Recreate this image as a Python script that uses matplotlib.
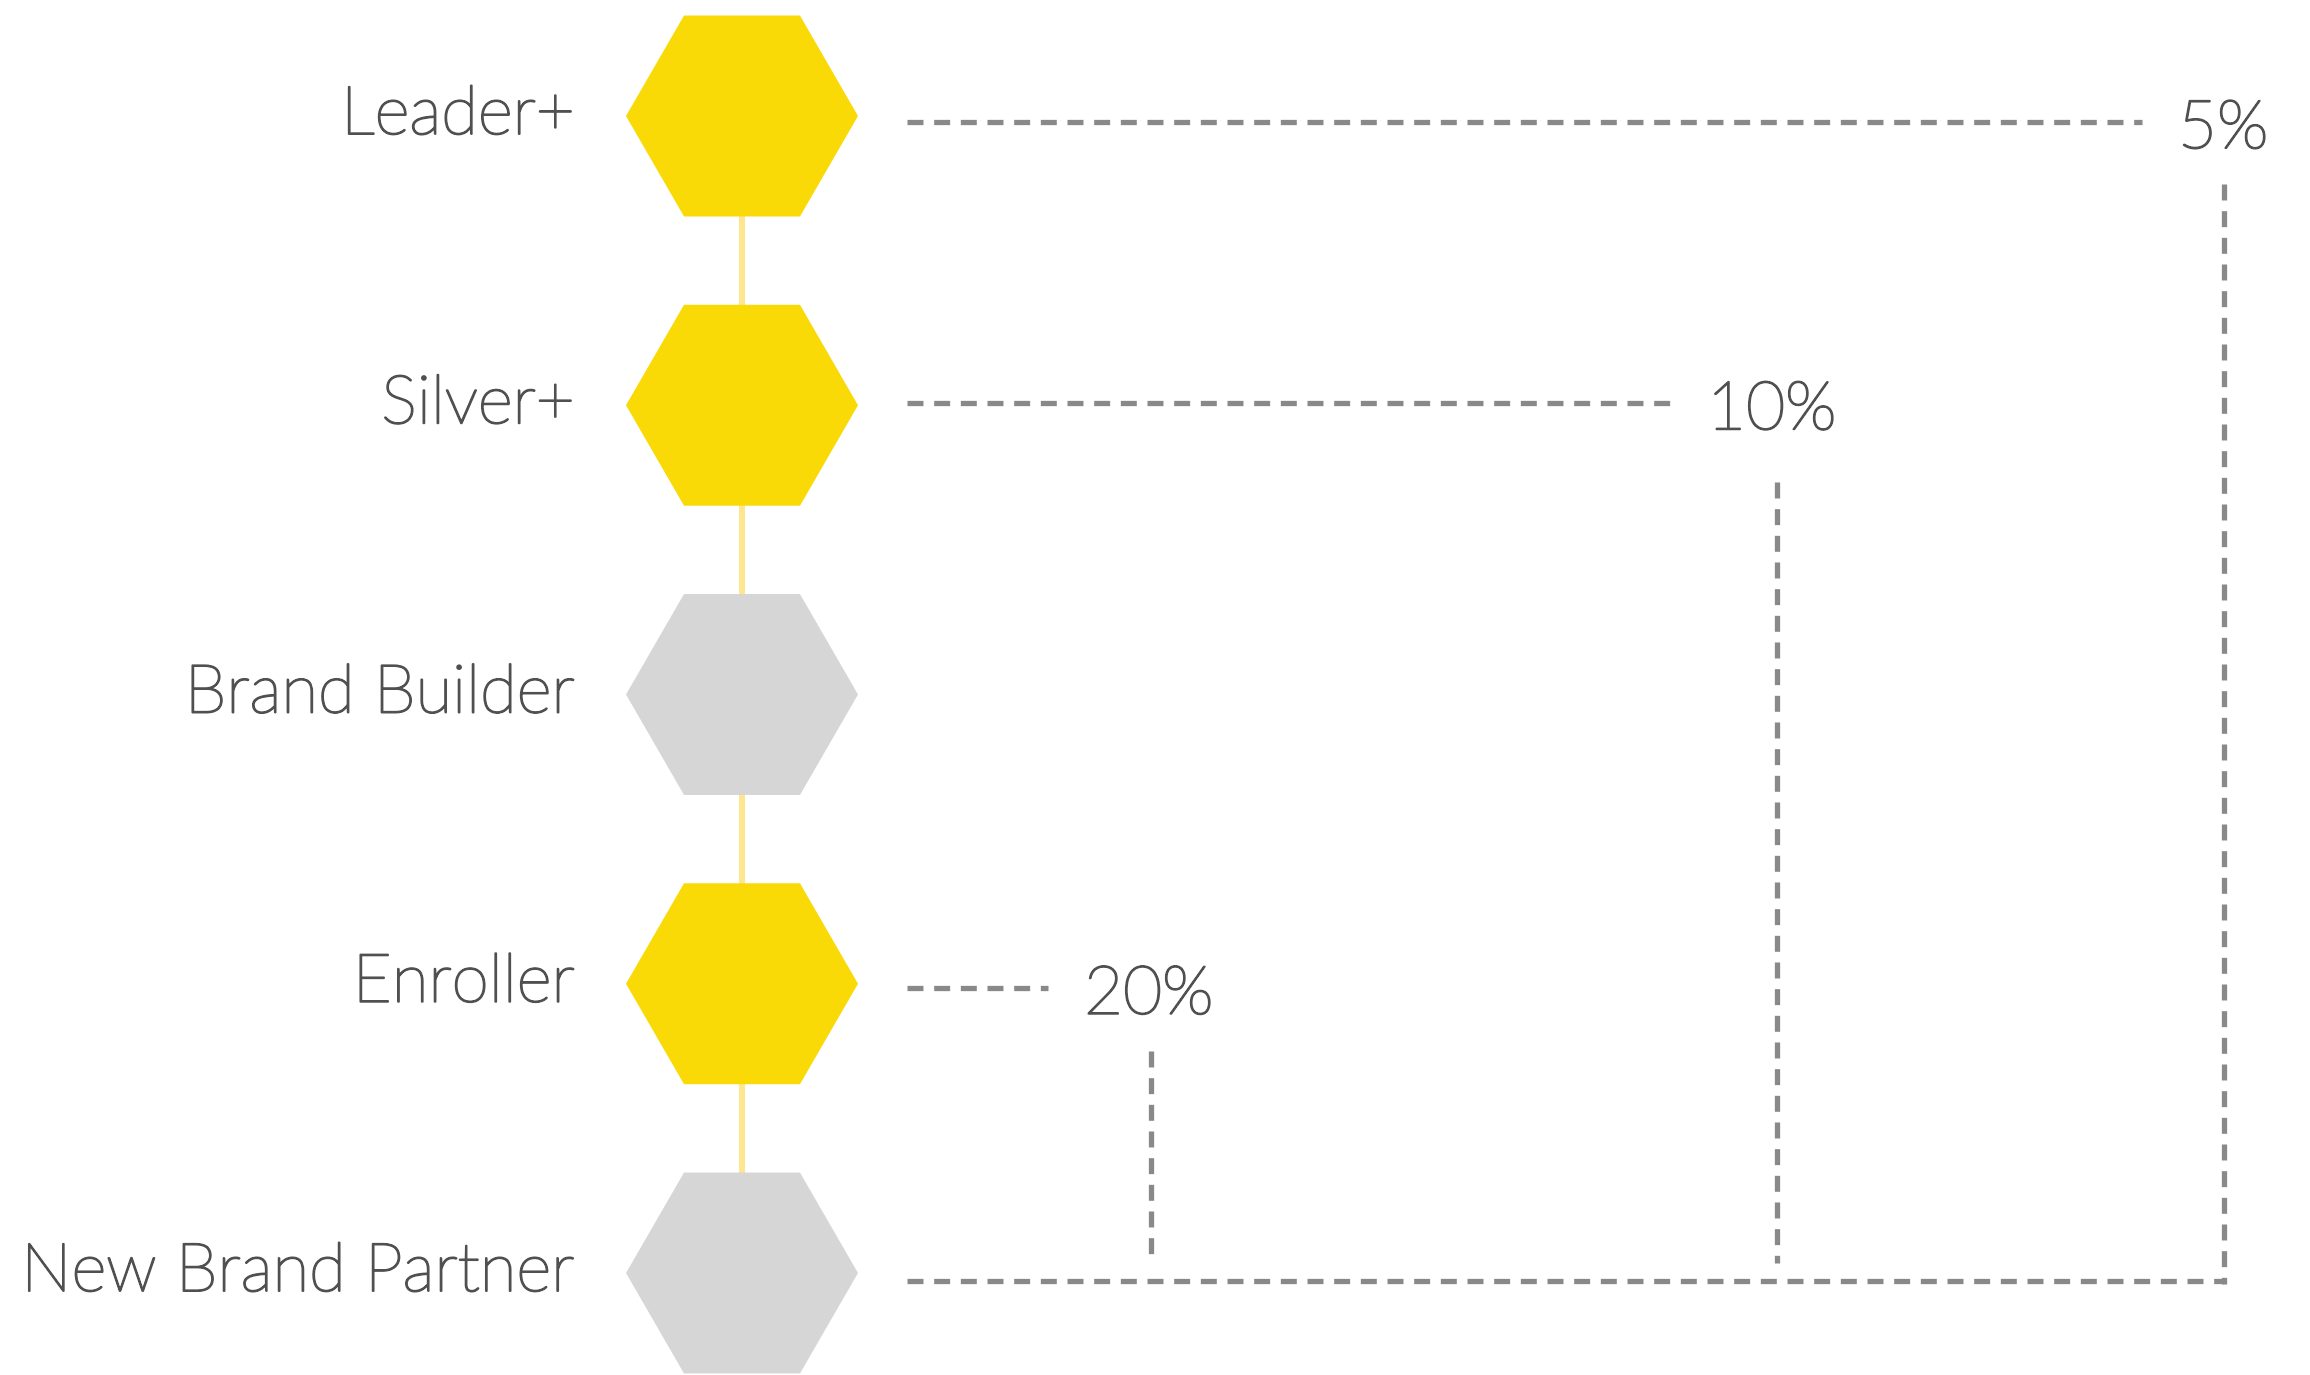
import matplotlib
matplotlib.use("Agg")
import matplotlib.pyplot as plt
import matplotlib.patheffects as pe

# ---------------- data ----------------
levels = ["Leader+", "Silver+", "Brand Builder", "Enroller", "New Brand Partner"]
highlighted = [True, True, False, True, False]
pct_levels = ["Leader+", "Silver+", "Enroller"]
pct_values = [5, 10, 20]
base_level = "New Brand Partner"

# ---------------- style / layout ----------------
plt.rcParams["lines.scale_dashes"] = False
TEXT_C = "#505050"
FONT = dict(family=["Lato", "DejaVu Sans"], weight="light", color=TEXT_C, fontsize=48.5,
            path_effects=[pe.withStroke(linewidth=1.4, foreground=TEXT_C)])
YELLOW = "#F9D906"
GRAY = "#D6D6D6"
CONNECT = "#FDE68F"
DASH_C = "#898989"
DASHES = (11.5, 7.7)
DASH_LW = 3.8

W, H = 2310, 1375
row_px, top_px = 289.25, 116
hex_x = 742
hex_diam_pt = 232 * 0.72
label_right = 575
h_start = 907
line_dy_px = [6, -2, 4]
line_end_x = [2142, 1671, 1048]
branch_x = [2224, 1777, 1151]
branch_gap_px = [62, 79, 63]

fig = plt.figure(figsize=(W / 100, H / 100), dpi=100)
ax = fig.add_axes([0, 0, 1, 1])
ax.set_xlim(0, W)
ax.set_ylim((H - top_px) / row_px, -top_px / row_px)
ax.axis("off")

px = 1 / row_px
n = len(levels)
ypos = {lvl: i for i, lvl in enumerate(levels)}

# connector
ax.plot([hex_x] * n, list(range(n)), color=CONNECT, lw=4.3, zorder=1,
        solid_capstyle="butt")
# hexagons
colors = [YELLOW if h else GRAY for h in highlighted]
ax.scatter([hex_x] * n, list(range(n)), marker="H", s=hex_diam_pt ** 2,
           c=colors, linewidths=0, zorder=2)
# labels
for i, lvl in enumerate(levels):
    ax.text(label_right, i + 18 * px, lvl, ha="right", va="baseline", **FONT)

# branches
yb = ypos[base_level]
far = max(branch_x)
for lvl, v, dy, xe, xb, gap in zip(pct_levels, pct_values, line_dy_px,
                                   line_end_x, branch_x, branch_gap_px):
    y = ypos[lvl] + dy * px
    ax.plot([h_start, xe], [y, y], color=DASH_C, lw=DASH_LW, dashes=DASHES)
    ax.text(xe + 36, y + 26 * px, f"{v}%", ha="left", va="baseline", **FONT)
    end = yb + 11 * px if xb == far else yb - 10 * px
    ax.plot([xb, xb], [y + gap * px, end], color=DASH_C, lw=DASH_LW,
            dashes=DASHES)

ax.plot([h_start, far], [yb + 8 * px] * 2, color=DASH_C, lw=DASH_LW,
        dashes=DASHES)

fig.savefig("out.png", dpi=100, facecolor="white")
